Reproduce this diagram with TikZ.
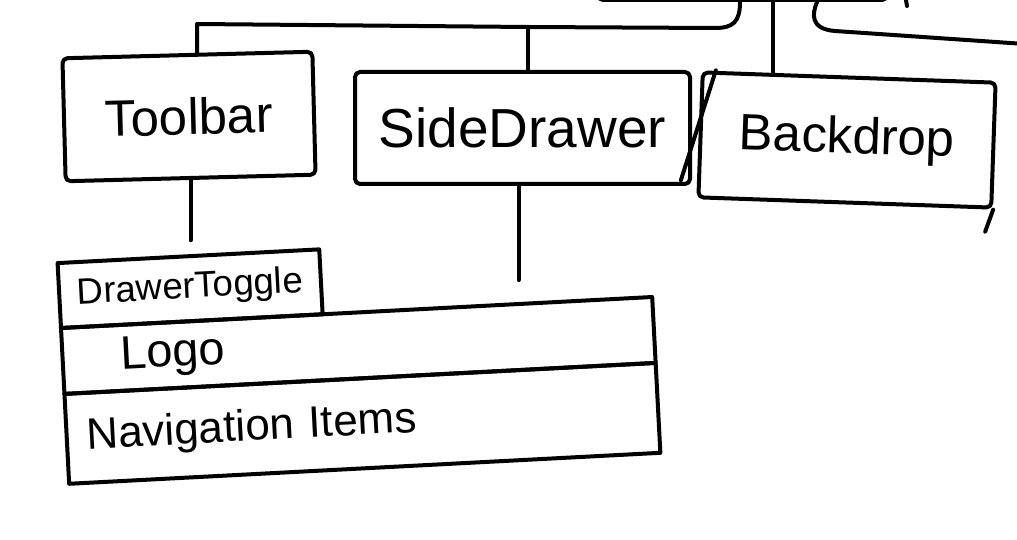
\documentclass[tikz,border=0pt]{standalone}
\usepackage{fontspec}
\setmainfont{Liberation Sans}
\usetikzlibrary{calc}
\tikzset{
  ink/.style={line width=4pt, line cap=round, line join=round, black},
  box/.style={ink, draw, rectangle, rounded corners=5pt, inner sep=0pt},
  stackbox/.style={ink, draw, rectangle, sharp corners, inner sep=0pt, outer sep=0pt, rotate=3},
}
\begin{document}
\begin{tikzpicture}[x=1pt,y=1pt]
\useasboundingbox (0,0) rectangle (1017,539);
\clip (0,0) rectangle (1017,539);

% parent box (mostly off the top edge)
\node[box, minimum width=289, minimum height=80, anchor=south] (app) at (742.5,537) {};

% first-level children
\node[box, minimum width=250, minimum height=123, rotate=1.5,
      font=\fontsize{51}{60}\selectfont] (toolbar) at (189,422.5) {Toolbar};
\node[box, minimum width=335, minimum height=112,
      font=\fontsize{55}{64}\selectfont] (sidedrawer) at (522.5,411) {SideDrawer};
\node[box, minimum width=293, minimum height=125, rotate=-2,
      font=\fontsize{51}{60}\selectfont] (backdrop) at (847,399) {Backdrop};

% shared component stack
\node[stackbox, minimum width=592, minimum height=66, anchor=north west,
      text width=592pt, align=left, font=\fontsize{47}{56}\selectfont]
      (logo) at (61,211) {\hspace*{58pt}Logo};
\node[stackbox, minimum width=592, minimum height=90, anchor=north west,
      text width=592pt, align=left, font=\fontsize{44}{52}\selectfont]
      (nav) at (logo.south west) {\hspace*{20pt}Navigation Items};
\node[stackbox, minimum width=262, minimum height=65, anchor=south west,
      font=\fontsize{36.6}{44}\selectfont] (toggle) at (logo.north west) {DrawerToggle};

% connectors from the parent
\coordinate (busL) at (197,515);
\coordinate (busSD) at (528,512);
\draw[ink] (app.south -| 740,0) .. controls +(0,-20) and +(18,0) .. (715,511)
  -- (busSD) -- (busL) -- (busL |- toolbar.north);
\draw[ink] (busSD) -- (busSD |- sidedrawer.north);
\draw[ink, shorten >=3pt] (app.south -| 773,0) -- (backdrop.north -| 773,0);
\coordinate (offR) at (1025,495);
\draw[ink] (app.south -| 817,0) .. controls (812,525) and (810,510) .. (835,508) -- (offR);
\draw[ink] (906,539) -- (907,533);

% extra strokes around the backdrop
\draw[ink] ($(backdrop.north west)+(15,0)$) -- ($(backdrop.north west)+(-20,-110)$);
\draw[ink] (backdrop.south east) -- ++(-8,-22);

% lower connectors
\draw[ink, shorten >=16pt] (toolbar.south) -- (toolbar.south |- toggle.north);
\coordinate (sdEnd) at ($(sidedrawer.south)+(-4,-94)$);
\draw[ink] ($(sidedrawer.south)+(-4,0)$) -- (sdEnd);
\end{tikzpicture}
\end{document}
